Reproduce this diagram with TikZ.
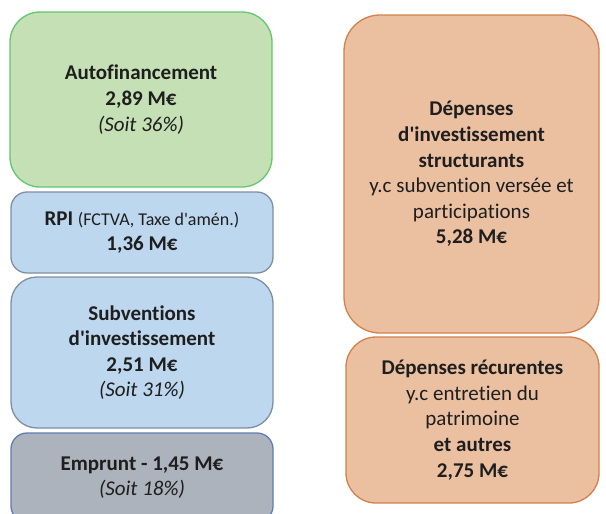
\documentclass[tikz,border=0pt]{standalone}
\usepackage{fontspec}
\setmainfont{Carlito}[Ligatures={TeXOff,CommonOff}]
\definecolor{gfill}{HTML}{C5E0B4}
\definecolor{gdraw}{HTML}{62C76F}
\definecolor{bfill}{HTML}{BDD7EE}
\definecolor{bdraw}{HTML}{7F8EA3}
\definecolor{kfill}{HTML}{ADB3BD}
\definecolor{kdraw}{HTML}{5F7DB3}
\definecolor{ofill}{HTML}{EBC0A1}
\definecolor{odraw}{HTML}{D3804A}
\definecolor{txt}{HTML}{1E1E1E}
\begin{document}
\begin{tikzpicture}[x=1pt,y=-1pt,
  boxbase/.style={line width=1.3pt, inner sep=0pt, align=center, text=txt,
    font=\fontsize{21}{25.6}\selectfont},
  greenbox/.style={boxbase, fill=gfill, draw=gdraw},
  bluebox/.style={boxbase, fill=bfill, draw=bdraw},
  graybox/.style={boxbase, fill=kfill, draw=kdraw},
  orangebox/.style={boxbase, fill=ofill, draw=odraw}
]
\useasboundingbox (0,0) rectangle (606,514);
\fill[white] (0,0) rectangle (606,514);

\draw[greenbox, rounded corners=30pt] (10,12) rectangle (272,187);
\node[boxbase] (auto) at (141,99.5) {\textbf{Autofinancement}\\\textbf{2,89 M€}\\\textit{(Soit 36\%)}};

\draw[bluebox, rounded corners=16pt] (11,192) rectangle (273,273);
\node[boxbase] (rpi) at (142,232.5) {\textbf{RPI} {\fontsize{18}{22}\selectfont (FCTVA, Taxe d'amén.)}\\\textbf{1,36 M€}};

\draw[bluebox, rounded corners=26pt] (11,277) rectangle (273,428);
\node[boxbase] (subv) at (142,352.5) {\textbf{Subventions}\\\textbf{d'investissement}\\\textbf{2,51 M€}\\\textit{(Soit 31\%)}};

\begin{scope}
\clip (0,0) rectangle (606,514);
\draw[graybox, rounded corners=16pt] (11,433) rectangle (273,522);
\end{scope}
\node[boxbase] (empr) at (142,477.5) {\textbf{Emprunt - 1,45 M€}\\\textit{(Soit 18\%)}};

\draw[orangebox, rounded corners=36pt] (344,15) rectangle (599,333);
\node[boxbase] (dinv) at (471.5,174) {\textbf{Dépenses}\\\textbf{d'investissement}\\\textbf{structurants}\\y.c subvention versée et\\participations\\\textbf{5,28 M€}};

\draw[orangebox, rounded corners=30pt] (346,337) rectangle (599,503);
\node[boxbase] (drec) at (472.5,420) {\textbf{Dépenses récurentes}\\y.c entretien du\\patrimoine\\\textbf{et autres}\\\textbf{2,75 M€}};
\end{tikzpicture}
\end{document}
